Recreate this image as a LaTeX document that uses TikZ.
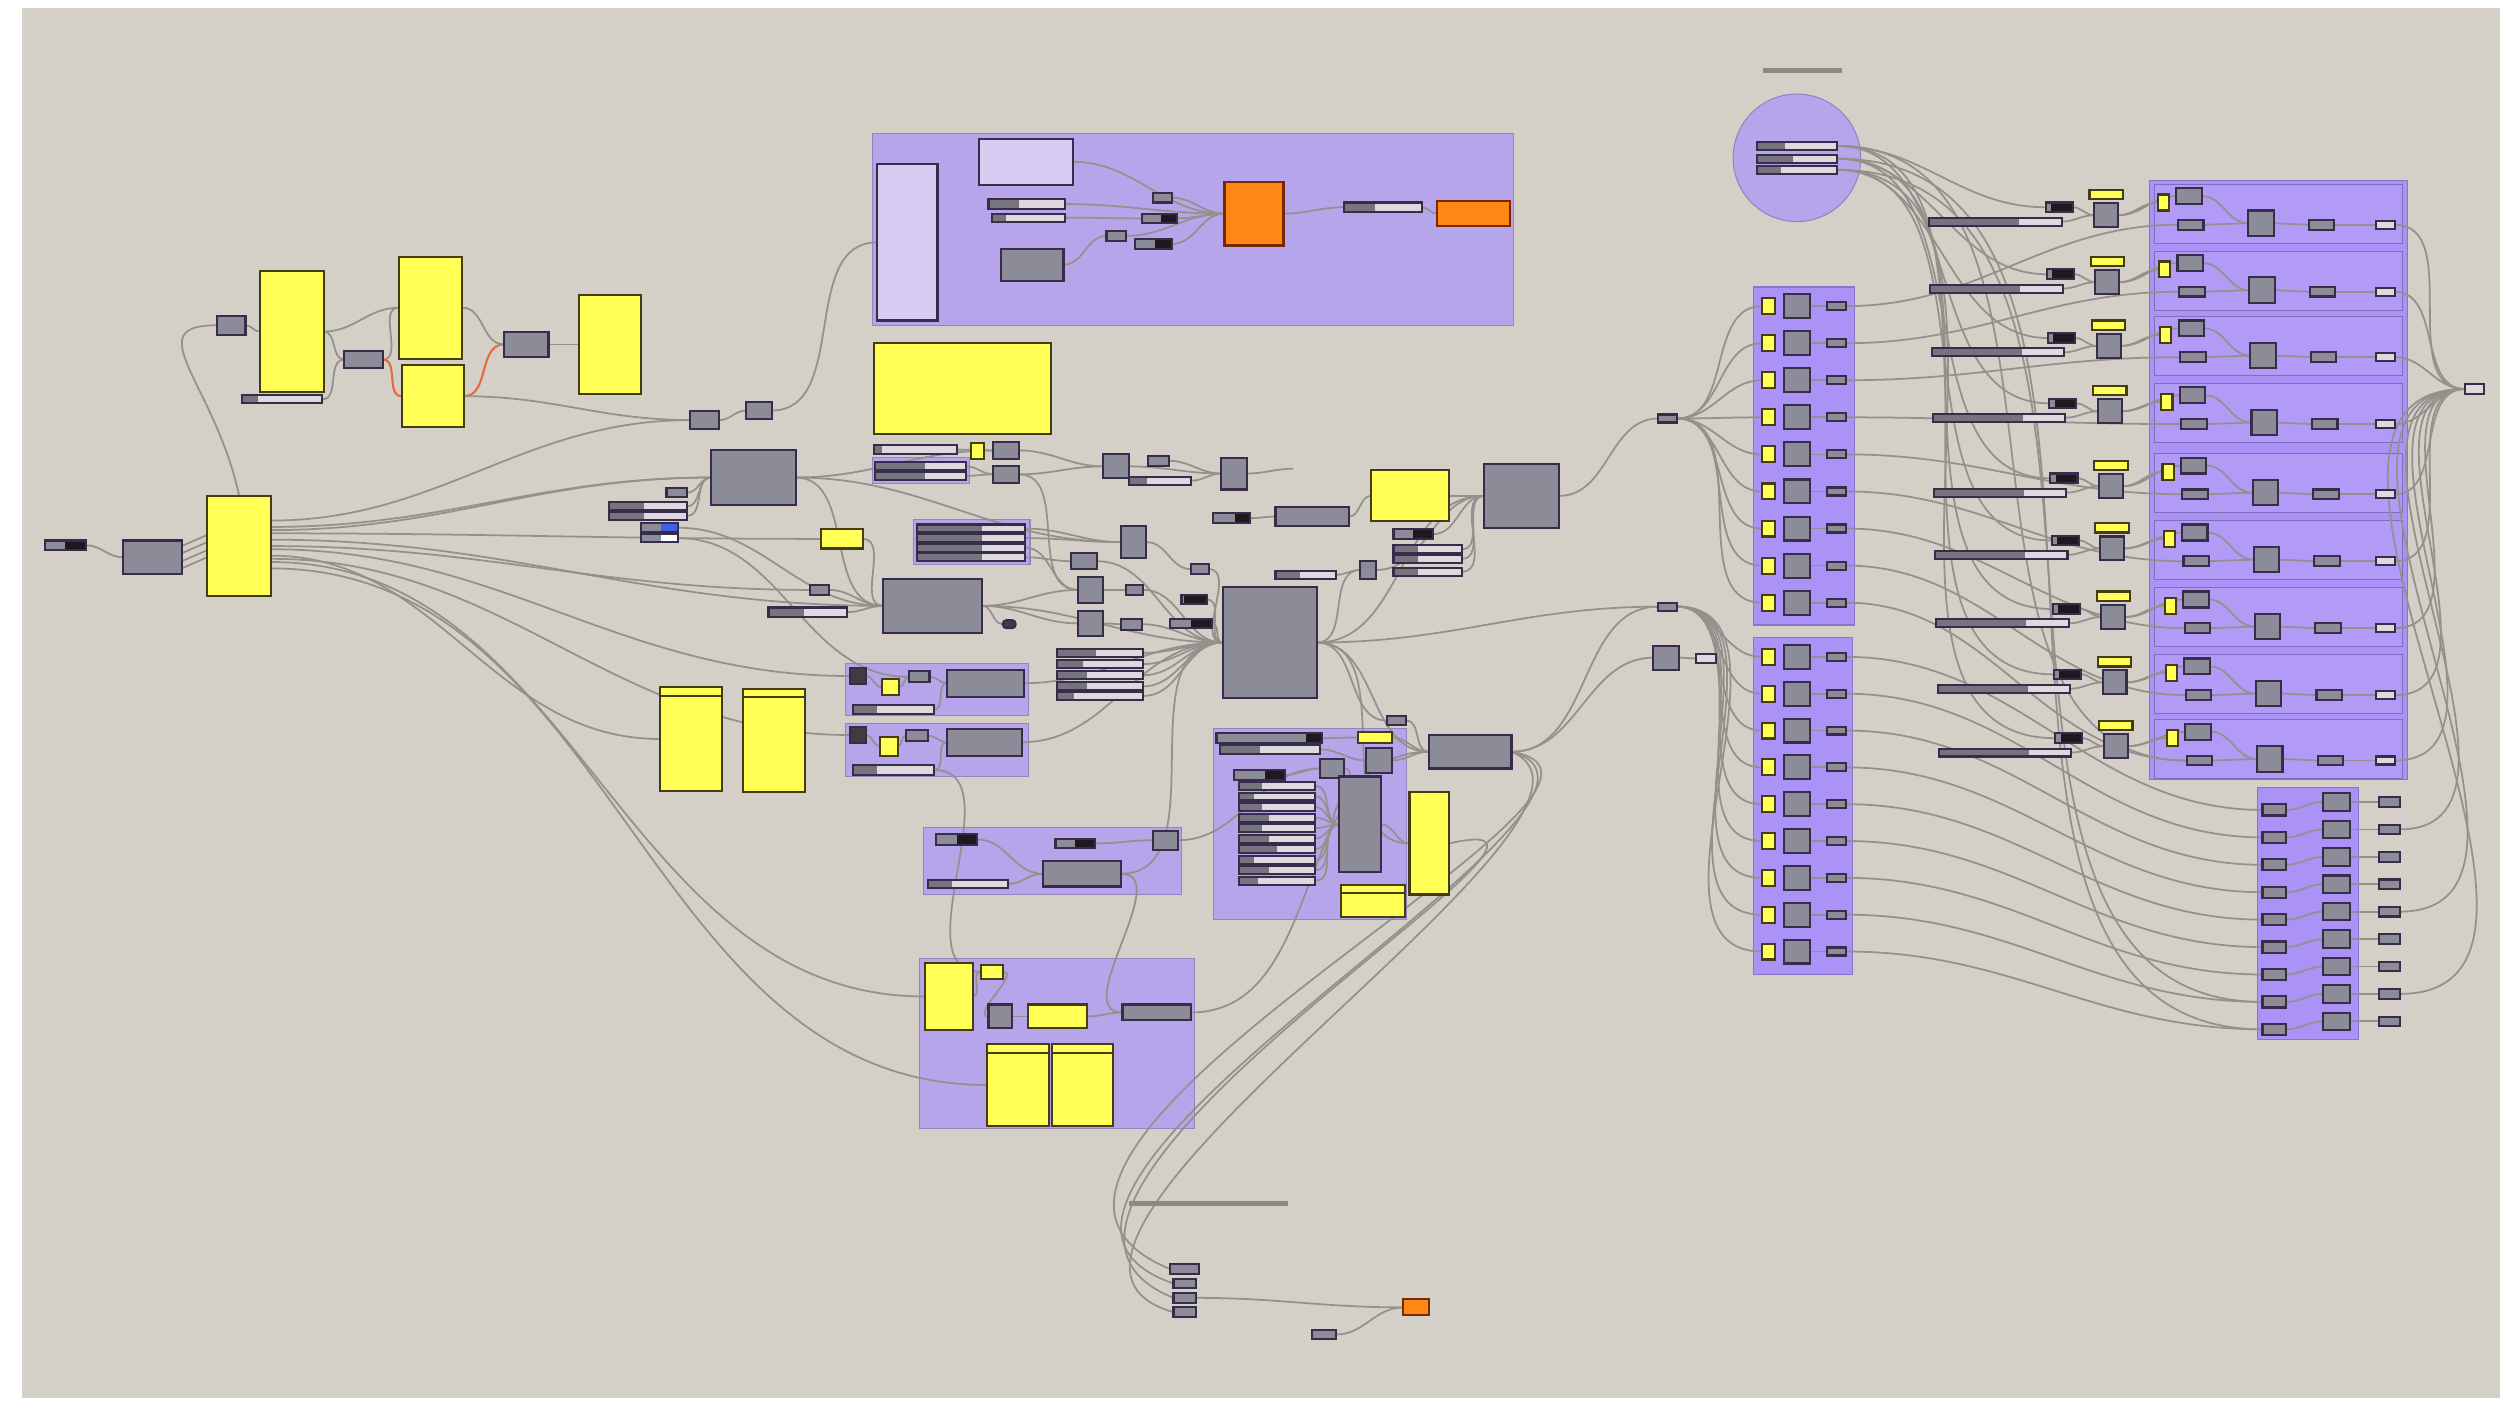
\documentclass[tikz,border=0pt]{standalone}
\usepackage{xcolor}
\usepackage{tikz}
\usetikzlibrary{calc}
\definecolor{canvas}{RGB}{212,208,200}
\definecolor{gpurple}{RGB}{183,165,236}
\definecolor{gviolet}{RGB}{170,146,246}
\definecolor{gyellow}{RGB}{255,255,85}
\definecolor{yedge}{RGB}{70,60,20}
\definecolor{cgrey}{RGB}{140,140,152}
\definecolor{cedge}{RGB}{55,45,75}
\definecolor{slight}{RGB}{220,218,222}
\definecolor{sdark}{RGB}{118,116,126}
\definecolor{tdark}{RGB}{28,26,30}
\definecolor{plav}{RGB}{214,204,242}
\definecolor{porange}{RGB}{255,135,20}
\definecolor{oedge}{RGB}{120,40,10}
\definecolor{wgrey}{RGB}{148,145,140}
\definecolor{owire}{RGB}{225,110,60}
\definecolor{scrib}{RGB}{140,136,130}
\definecolor{cblue}{RGB}{60,100,230}
\newcommand{\unitpx}{0.015944cm}
\pgfdeclarelayer{grp}
\pgfdeclarelayer{wire}
\pgfsetlayers{grp,wire,main}

\begin{document}
\begin{tikzpicture}[
    x={(0.015944cm,0)}, y={(0,-0.015944cm)},
    comp/.style={rectangle, draw=cedge, fill=cgrey, line width=0.6pt, inner sep=0pt, outer sep=0pt},
    sz/.style 2 args={minimum width=#1*\unitpx, minimum height=#2*\unitpx},
    ypanel/.style={comp, fill=gyellow, draw=yedge},
    yhead/.style={ypanel, path picture={\draw[yedge, line width=0.6pt] ([yshift=-2.4pt]path picture bounding box.north west) -- ([yshift=-2.4pt]path picture bounding box.north east);}},
    lav/.style={comp, fill=plav},
    orng/.style={comp, fill=porange, draw=oedge},
    slider/.style={comp, fill=slight, path picture={\fill[sdark] (path picture bounding box.south west) rectangle ($(path picture bounding box.north west)!#1!(path picture bounding box.north east)$);}},
    slider/.default=0.45,
    tog/.style={comp, path picture={\fill[tdark] ($(path picture bounding box.south west)!#1!(path picture bounding box.south east)$) rectangle (path picture bounding box.north east);}},
    tog/.default=0.55,
    chip/.style={comp, path picture={\fill[#1] ($(path picture bounding box.south west)!0.55!(path picture bounding box.south east)$) rectangle (path picture bounding box.north east);}},
    icon/.style={comp, fill=tdark!85},
    lite/.style={comp, fill=slight},
    grp/.style={rectangle, fill=gpurple, draw=gpurple!80!black, line width=0.3pt, inner sep=0pt},
    grpv/.style={grp, fill=gviolet, draw=gviolet!80!black},
    subgrp/.style={grp, fill=gviolet!92!white, draw=gviolet!75!black},
    wire/.style={draw=wgrey, line width=0.5pt},
    link/.style={wire, out=0, in=180},
    hot/.style={draw=owire, line width=0.6pt, out=0, in=180},
    scribble/.style={draw=scrib, line width=1.4pt}
]

    % Canvas
    \begin{pgfonlayer}{grp}
    \fill[white] (0,0) rectangle (1568,879);
    \fill[canvas] (14,5) rectangle (1568,877);
    \end{pgfonlayer}
    \useasboundingbox (0,0) rectangle (1568,879);

    % Groups
    \begin{pgfonlayer}{grp}
    \node[grp, sz={402}{120}] (grpTop) at (748,144) {};
    \node[grp, sz={61}{16}] (grpS) at (577.5,295) {};
    \node[grp, sz={73}{28}] (grpF) at (609.5,340) {};
    \node[grp, sz={115}{33}] (grpA) at (587.5,432.5) {};
    \node[grp, sz={115}{33}] (grpB) at (587.5,470.5) {};
    \node[grp, sz={162}{42}] (grpC) at (660,540) {};
    \node[grp, sz={121}{120}] (grpD) at (821.5,517) {};
    \node[grp, sz={172}{107}] (grpE) at (663,654.5) {};
    \node[grp, circle, minimum size=80*\unitpx] (grpO) at (1127,99) {};
    \node[grpv, sz={63}{212}] (grpCA) at (1131.5,286) {};
    \node[grpv, sz={62}{211}] (grpCB) at (1131,505.5) {};
    \node[grpv, sz={162}{376}] (grpRR) at (1429,301) {};
    \foreach \i/\yt in {1/115,2/157,3/198,4/240,5/284,6/326,7/368,8/410,9/451}
        \node[subgrp, sz={156}{37}] (rB\i) at (1429,\yt+19) {};
    \node[grpv, sz={63}{158}] (grpBR) at (1447.5,573) {};
    \end{pgfonlayer}

    % Scribbles
    \draw[scribble] (708,755) -- (808,755);
    \draw[scribble] (1106,44) -- (1155,44);

    % Left cluster
    \node[tog=0.5, sz={26}{6}] (pillL) at (41,342) {};
    \node[comp, sz={37}{21}] (gL) at (95.5,349.5) {};
    \node[ypanel, sz={40}{63}] (yL) at (150,342.5) {};
    \node[comp, sz={18}{12}] (gT1) at (145,204) {};
    \node[ypanel, sz={40}{76}] (yT1) at (183,208) {};
    \node[slider=0.2, sz={50}{5}] (sT1) at (177,250.5) {};
    \node[comp, sz={24}{11}] (gT2) at (228,225.5) {};
    \node[ypanel, sz={40}{64}] (yT2) at (270,193) {};
    \node[ypanel, sz={39}{39}] (yT3) at (271.5,248.5) {};
    \node[comp, sz={28}{16}] (gT3) at (330,216) {};
    \node[ypanel, sz={39}{62}] (yT4) at (382.5,216) {};

    % Middle left
    \node[comp, sz={18}{11}] (gM1) at (442,263.5) {};
    \node[comp, sz={16}{11}] (gM2) at (476,257.5) {};
    \node[comp, sz={53}{35}] (gBig1) at (472.5,299.5) {};
    \node[comp, sz={13}{6}] (gM3) at (424.5,309) {};
    \node[slider, sz={49}{5}] (sM1) at (406.5,317.5) {};
    \node[slider, sz={49}{5}] (sM2) at (406.5,323.5) {};
    \node[chip=cblue, sz={23}{6}] (chipB) at (413.5,331) {};
    \node[chip=white, sz={23}{5}] (chipW) at (413.5,337.5) {};
    \node[ypanel, sz={26}{12}] (yM1) at (528,338) {};
    \node[comp, sz={12}{6}] (gM4) at (514,370) {};
    \node[slider, sz={49}{6}] (sM3) at (506.5,384) {};
    \node[comp, sz={62}{34}] (gBig2) at (585,380) {};
    \node[icon, sz={8}{5}, rounded corners=1pt] (gM5) at (633,391.5) {};
    \node[yhead, sz={39}{65}] (yTall1) at (433.5,463.5) {};
    \node[yhead, sz={39}{65}] (yTall2) at (485.5,464.5) {};

    % Top group
    \node[lav, sz={38}{98}] (lavT) at (569,152) {};
    \node[lav, sz={59}{29}] (lavS) at (643.5,101.5) {};
    \node[slider=0.4, sz={48}{6}] (sT2) at (644,128) {};
    \node[slider=0.2, sz={46}{5}] (sT3) at (645,136.5) {};
    \node[comp, sz={39}{20}] (gT4) at (647.5,166) {};
    \node[comp, sz={12}{6}] (gT5) at (729,124) {};
    \node[tog, sz={22}{6}] (tT1) at (727,137) {};
    \node[comp, sz={12}{6}] (gT6) at (700,148) {};
    \node[tog, sz={23}{6}] (tT2) at (723.5,153) {};
    \node[orng, sz={37}{40}] (oT1) at (786.5,134) {};
    \node[slider=0.4, sz={49}{6}] (sT4) at (867.5,130) {};
    \node[orng, sz={46}{16}] (oT2) at (924,134) {};

    % Panel row under the top group
    \node[ypanel, sz={111}{57}] (yW) at (603.5,243.5) {};
    \node[slider=0.1, sz={52}{6}] (sW1) at (574,282) {};
    \node[ypanel, sz={8}{10}] (yW2) at (613,283) {};
    \node[comp, sz={16}{11}] (gW1) at (631,282.5) {};
    \node[slider=0.55, sz={57}{5}] (sW2) at (577.5,292.5) {};
    \node[slider=0.55, sz={57}{5}] (sW3) at (577.5,298.5) {};
    \node[comp, sz={16}{11}] (gW2) at (631,297.5) {};
    \node[comp, sz={16}{15}] (gW3) at (700,292.5) {};
    \node[comp, sz={13}{6}] (gW4) at (726.5,289) {};
    \node[slider=0.3, sz={39}{5}] (sW4) at (727.5,301.5) {};
    \node[comp, sz={16}{20}] (gW5) at (774,297) {};
    \coordinate (wEnd) at (811,294);

    % Centre
    \foreach \k/\yy in {1/331.5,2/337.5,3/343.5,4/349.5}
        \node[slider=0.6, sz={68}{5}] (sF\k) at (609,\yy) {};
    \node[comp, sz={16}{10}] (gF1) at (680,352) {};
    \node[comp, sz={16}{20}] (gF2) at (711,340) {};
    \node[comp, sz={16}{16}] (gF3) at (684,370) {};
    \node[comp, sz={16}{16}] (gF4) at (684,391) {};
    \node[comp, sz={11}{6}] (gF5) at (711.5,370) {};
    \node[comp, sz={13}{7}] (gF6) at (709.5,391.5) {};
    \node[comp, sz={11}{6}] (gF7) at (752.5,357) {};
    \node[tog=0.1, sz={16}{6}] (tF1) at (749,376) {};
    \node[tog=0.5, sz={26}{6}] (tF2) at (747,391) {};
    \node[comp, sz={59}{70}] (gBig3) at (796.5,403) {};
    \foreach \k/\yy/\ff in {1/409.5/0.45,2/416.5/0.3,3/423.5/0.35,4/430.5/0.35,5/436.5/0.2}
        \node[slider=\ff, sz={54}{5}] (sG\k) at (690,\yy) {};

    \node[tog=0.6, sz={23}{6}] (tC1) at (772.5,325) {};
    \node[comp, sz={46}{12}] (gC1) at (823,324) {};
    \node[slider=0.4, sz={38}{5}] (sC1) at (819,360.5) {};
    \node[comp, sz={10}{11}] (gC2) at (858,357.5) {};
    \node[ypanel, sz={49}{32}] (yC1) at (884.5,311) {};
    \node[comp, sz={47}{40}] (gC3) at (954.5,311) {};
    \node[tog=0.5, sz={25}{6}] (tC2) at (886.5,335) {};
    \foreach \k/\yy in {2/344.5,3/350.5,4/358.5}
        \node[slider=0.35, sz={43}{5}] (sC\k) at (895.5,\yy) {};

    % Group A and B
    \node[icon, sz={10}{10}] (kA) at (538,424) {};
    \node[ypanel, sz={11}{10}] (yA) at (558.5,431) {};
    \node[comp, sz={13}{7}] (gA1) at (576.5,424.5) {};
    \node[comp, sz={48}{17}] (gA2) at (618,428.5) {};
    \node[slider=0.3, sz={51}{6}] (sA) at (560.5,445) {};
    \node[icon, sz={10}{10}] (kB) at (538,461) {};
    \node[ypanel, sz={11}{12}] (yB) at (557.5,468) {};
    \node[comp, sz={14}{7}] (gB1) at (575,461.5) {};
    \node[comp, sz={47}{17}] (gB2) at (617.5,465.5) {};
    \node[slider=0.3, sz={51}{6}] (sB) at (560.5,483) {};

    % Group C
    \node[tog=0.5, sz={26}{7}] (tC3) at (600,526.5) {};
    \node[tog=0.5, sz={25}{6}] (tC4) at (674.5,529) {};
    \node[comp, sz={16}{12}] (gC4) at (731,527) {};
    \node[comp, sz={49}{16}] (gC5) at (678.5,548) {};
    \node[slider=0.3, sz={50}{5}] (sC5) at (607,554.5) {};

    % Group D
    \node[tog=0.85, sz={66}{6}] (sD1) at (796,463) {};
    \node[slider=0.4, sz={63}{6}] (sD2) at (796.5,470) {};
    \node[tog=0.6, sz={32}{6}] (tD1) at (790,486) {};
    \node[comp, sz={15}{12}] (gD1) at (835.5,482) {};
    \foreach \k/\ff in {3/0.3,4/0.2,5/0.3,6/0.4,7/0.3,8/0.4,9/0.5,10/0.2,11/0.4,12/0.25}
        \node[slider=\ff, sz={48}{5}] (sD\k) at (801,{493+6.6*(\k-3)}) {};
    \node[comp, sz={26}{60}] (gD2) at (853,517) {};
    \node[ypanel, sz={21}{7}] (yD1) at (862.5,462.5) {};
    \node[comp, sz={16}{16}] (gD3) at (865,477) {};
    \node[yhead, sz={40}{20}] (yD2) at (861,565) {};
    \node[comp, sz={12}{6}] (gD4) at (876,452) {};
    \node[ypanel, sz={25}{64}] (yD3) at (896.5,529) {};
    \node[comp, sz={52}{21}] (gD5) at (922,471.5) {};

    % Group E
    \node[ypanel, sz={30}{42}] (yE1) at (595,625) {};
    \node[ypanel, sz={14}{9}] (yE2) at (622,609.5) {};
    \node[comp, sz={15}{15}] (gE1) at (627.5,637.5) {};
    \node[ypanel, sz={37}{15}] (yE3) at (663.5,637.5) {};
    \node[comp, sz={43}{10}] (gE2) at (725.5,635) {};
    \node[yhead, sz={39}{51}] (yE4) at (638.5,680.5) {};
    \node[yhead, sz={38}{51}] (yE5) at (679,680.5) {};

    % Bottom outputs
    \node[comp, sz={18}{6}] (gZ1) at (743,796) {};
    \node[comp, sz={14}{6}] (gZ2) at (743,805) {};
    \node[comp, sz={14}{6}] (gZ3) at (743,814) {};
    \node[comp, sz={14}{6}] (gZ4) at (743,823) {};
    \node[orng, sz={16}{10}] (oZ) at (888,820) {};
    \node[comp, sz={15}{6}] (gZ5) at (830.5,837) {};

    % Right side relays
    \node[comp, sz={12}{5}] (gR1) at (1046,262.5) {};
    \node[comp, sz={12}{5}] (gR2) at (1046,380.5) {};
    \node[comp, sz={16}{15}] (gR3) at (1045,412.5) {};
    \node[lite, sz={12}{6}] (gR4) at (1070,413) {};
    \node[slider=0.35, sz={50}{5}] (sO1) at (1127,91.5) {};
    \node[slider=0.45, sz={50}{5}] (sO2) at (1127,99.5) {};
    \node[slider=0.3, sz={50}{5}] (sO3) at (1127,106.5) {};

    % Columns
    \foreach \i in {1,...,9}{
        \pgfmathsetmacro\ya{192+23.25*(\i-1)}
        \pgfmathsetmacro\yb{412+23.1*(\i-1)}
        \node[ypanel, sz={8}{10}] (aY\i) at (1109,\ya) {};
        \node[comp, sz={16}{15}] (aG\i) at (1127,\ya) {};
        \node[comp, sz={12}{5}] (aS\i) at (1152,\ya) {};
        \node[ypanel, sz={8}{10}] (bY\i) at (1109,\yb) {};
        \node[comp, sz={16}{15}] (bG\i) at (1127,\yb) {};
        \node[comp, sz={12}{5}] (bS\i) at (1152,\yb) {};
    }

    % Middle right rows
    \foreach \i/\yy in {1/139,2/181,3/221,4/262,5/309,6/348,7/391,8/432,9/472}{
        \pgfmathsetmacro\xo{0.75*(\i-1)}
        \node[slider=0.68, sz={83}{5}] (mS\i) at (1251.5+\xo,\yy) {};
        \node[tog=0.2, sz={17}{6}] (mT\i) at (1291.5+\xo,\yy-9) {};
        \node[ypanel, sz={21}{6}] (mY\i) at (1321+\xo,\yy-17) {};
        \node[comp, sz={15}{15}] (mG\i) at (1321+\xo,\yy-4) {};
    }

    % Right group rows
    \foreach \i/\yt in {1/115,2/157,3/198,4/240,5/284,6/326,7/368,8/410,9/451}{
        \pgfmathsetmacro\xo{0.7*(\i-1)}
        \node[ypanel, sz={7}{10}] (rY\i) at (1357+\xo,\yt+12) {};
        \node[comp, sz={16}{10}] (rA\i) at (1373+\xo,\yt+8) {};
        \node[comp, sz={16}{6}] (rI\i) at (1374+\xo,\yt+26) {};
        \node[comp, sz={16}{16}] (rG\i) at (1418+\xo,\yt+25) {};
        \node[comp, sz={16}{6}] (rO\i) at (1456+\xo,\yt+26) {};
        \node[lite, sz={12}{5}] (rL\i) at (1496,\yt+26) {};
    }
    \node[lite, sz={12}{6}] (gOut) at (1552,244) {};

    % Bottom right rows
    \foreach \i in {1,...,9}{
        \pgfmathsetmacro\yy{508+17.2*(\i-1)}
        \node[comp, sz={15}{7}] (bL\i) at (1426.5,\yy) {};
        \node[comp, sz={17}{11}] (bR\i) at (1465.5,\yy-5) {};
        \node[comp, sz={13}{6}] (bO\i) at (1498.5,\yy-5) {};
    }

    % Connections
    \begin{pgfonlayer}{wire}
    % left
    \draw[link] (pillL.east) to (gL.west);
    \foreach \d in {-7,-2.5,2.5,7}
        \draw[wire] ([yshift=\d*\unitpx]gL.east) -- ([yshift=\d*\unitpx]yL.west);
    \draw[wire] (yL.north) .. controls +(-15,-70) and +(-50,0) .. (gT1.west);
    \draw[link] (gT1.east) to (yT1.west);
    \draw[link] (yT1.east) to (gT2.west);
    \draw[link] (yT1.east) to (yT2.west);
    \draw[link] (sT1.east) to (gT2.west);
    \draw[link] (gT2.east) to (yT2.west);
    \draw[hot] (gT2.east) to (yT3.west);
    \draw[hot] (yT3.east) to (gT3.west);
    \draw[link] (yT2.east) to (gT3.west);
    \draw[link] (gT3.east) to (yT4.west);
    \draw[link] (yT3.east) to (gM1.west);
    \draw[link] (gM1.east) to (gM2.west);
    \draw[link] (gM2.east) to (lavT.west);
    \foreach \t/\d in {gBig1/12,gM1/16,gBig2/4,gM4/0,yM1/8,yTall1/-6,yE1/-10,yE4/-14,kA/-2,kB/-8,gBig1/10}
        \draw[link] ([yshift=\d*\unitpx]yL.east) to (\t.west);

    % centre
    \foreach \s/\t in {sM1/gBig1,sM2/gBig1,gM3/gBig1,chipB/gBig2,chipW/gA1,gBig1/gW1,gBig1/gBig2,gBig1/gF2,
                      yM1/gBig2,gM4/gBig2,sM3/gBig2,gBig2/gF3,gBig2/gF4,gBig2/gM5,gBig2/gBig3,
                      sF1/gF2,sF2/gF2,sF3/gF3,sF4/gF1,sW1/gW1,sW2/gW2,sW3/gW2,gW1/gW3,gW2/gW3,gW2/gF3,
                      gW3/gW5,gW4/gW5,sW4/gW5,gF1/gBig3,gF2/gF7,gF3/gF5,gF5/gBig3,gF4/gF6,gF6/gBig3,
                      gF7/gBig3,tF1/gBig3,tF2/gBig3,sG1/gBig3,sG2/gBig3,sG3/gBig3,sG4/gBig3,sG5/gBig3,
                      kA/yA,yA/gA1,gA1/gA2,sA/gA2,gA2/gBig3,kB/yB,yB/gB1,gB1/gB2,sB/gB2,gB2/gBig3,
                      tC3/gC5,tC4/gC4,sC5/gC5,gC5/gBig3,gC4/gD1,
                      gBig3/gC2,gBig3/gD5,gBig3/yD3,gBig3/gC3,gBig3/gD4,
                      tC1/gC1,gC1/yC1,sC1/gC2,gC2/gC3,tC2/gC3,sC2/gC3,sC3/gC3,sC4/gC3,yC1/gC3,
                      sD1/yD1,sD2/gD3,tD1/gD1,gD1/gD2,gD2/yD3,gD3/gD5,gD4/gD5,yD1/gD5,
                      yE1/yE2,yE2/gE1,gE1/yE3,yE3/gE2,gE2/gD5,sB/yE2,gC5/gE2,
                      gZ3/oZ,gZ5/oZ,gR3/gR4,gD5/gR3}
        \draw[link] (\s.east) to (\t.west);
    \foreach \k in {3,...,12}
        \draw[link] (sD\k.east) to (gD2.west);
    \draw[link] (gW5.east) to (wEnd);
    \draw[link] (gC3.east) to (gR1.west);
    \draw[link] (gD5.east) to (gR2.west);
    \draw[link] (gBig3.east) to (gR2.west);
    \draw[wire] (gD5.east) .. controls +(120,20) and +(-170,-70) .. (gZ1.west);
    \draw[wire] (gD5.east) .. controls +(110,30) and +(-160,-55) .. (gZ2.west);
    \draw[wire] (yD3.east) .. controls +(130,-30) and +(-150,-60) .. (gZ3.west);
    \draw[wire] (gD5.east) .. controls +(95,40) and +(-140,-40) .. (gZ4.west);

    % top group
    \foreach \s/\t in {lavS/oT1,sT2/oT1,sT3/tT1,gT4/gT6,gT6/oT1,gT5/oT1,tT1/oT1,tT2/oT1,oT1/sT4,sT4/oT2}
        \draw[link] (\s.east) to (\t.west);

    % right side
    \foreach \i in {1,...,9}{
        \draw[link] (gR1.east) to (aY\i.west);
        \draw[link] (gR2.east) to (bY\i.west);
        \draw[wire] (aG\i.east) -- (aS\i.west);
        \draw[wire] (bG\i.east) -- (bS\i.west);
        \draw[link] (aS\i.east) to (rI\i.west);
        \draw[link] (bS\i.east) to (bL\i.west);
        \draw[link] (mS\i.east) to (mG\i.west);
        \draw[link] (mT\i.east) to (mG\i.west);
        \draw[link] (mG\i.east) to (rY\i.west);
        \draw[link] (mG\i.east) to (rA\i.west);
        \draw[wire] (rI\i.east) -- (rG\i.west);
        \draw[wire] (rG\i.east) -- (rO\i.west);
        \draw[wire] (rO\i.east) -- (rL\i.west);
        \draw[link] (rA\i.east) to (rG\i.west);
        \draw[link] (rL\i.east) to (gOut.west);
        \draw[link] (bL\i.east) to (bR\i.west);
        \draw[wire] (bR\i.east) -- (bO\i.west);
    }
    \foreach \s/\t in {sO1/mT1,sO1/mT4,sO1/mT7,sO2/mT2,sO2/mT5,sO2/mT8,sO3/mT3,sO3/mT6,sO3/mT9,
                      sO2/bL9,sO3/bL8,sO1/rI9,bO2/gOut,bO5/gOut,bO8/gOut}
        \draw[link] (\s.east) to (\t.west);
    \end{pgfonlayer}

\end{tikzpicture}
\end{document}
